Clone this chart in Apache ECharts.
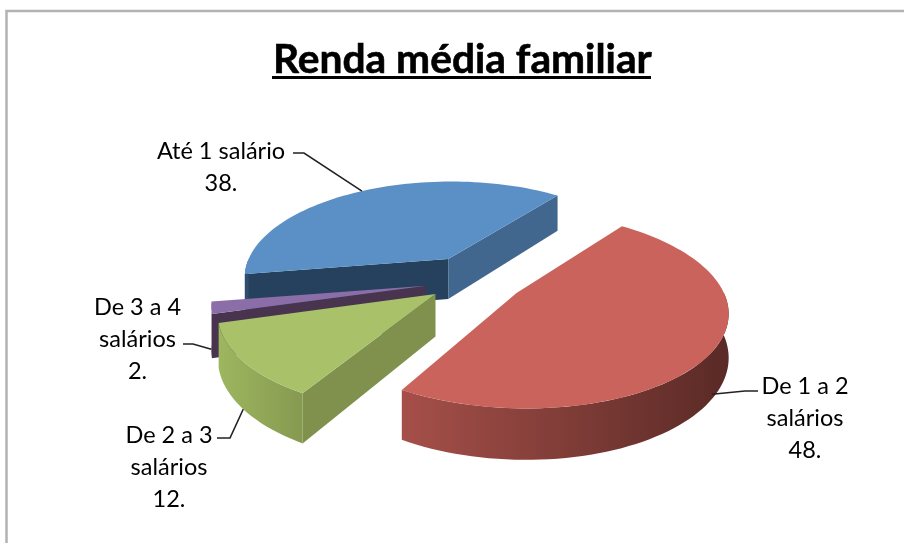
<!DOCTYPE html>
<html><head><meta charset="utf-8">
<style>html,body{margin:0;padding:0;background:#fff}#c{width:904px;height:543px}</style>
<script src="https://cdn.jsdelivr.net/npm/echarts@6/dist/echarts.min.js"></script>
</head><body><div id="c"></div>
<script>
// data
const categories = ['Até 1 salário','De 1 a 2 salários','De 2 a 3 salários','De 3 a 4 salários'];
const values = [38, 48, 12, 2];
const labelLines = [['Até 1 salário','38.'],['De 1 a 2','salários','48.'],['De 2 a 3','salários','12.'],['De 3 a 4','salários','2.']];
// styles
const topColors = ['#5B90C6','#C9635C','#A9C26A','#8B6EA8'];
const startCutColors = ['#26415D','#7c3b37','#7F914D','#48344F'];
const endCutColors = ['#41678F','#7c3b37','#7F914D','#48344F'];
const rimStops = [['#2f4d6e','#2f4d6e'],['#A64F49','#5A2A26'],['#9DB65F','#869A50'],['#48344F','#48344F']];
// draw order: back to front
const drawOrder = [0, 3, 2, 1];
// projection
const view = {cx:470, cy:273, A:205, B:96, p:0.18, H:41, firstAngle:-99.3,
  offset:[[-0.109,-0.15],[0.219,0.2],[-0.162,0.21],[-0.21,0.13]],
  radiusX:[1,0.975,1,1],
  radiusY:[1,0.925,0.94,0.94]};
const total = values.reduce((a,b)=>a+b,0);
const rad = d=>d*Math.PI/180;
function sliceSpan(i){ let a=view.firstAngle; for(let k=0;k<i;k++) a+=values[k]/total*360; return [a, a+values[i]/total*360]; }
function project(i, deg, r, h){
  const X=view.offset[i][0]+r*view.radiusX[i]*Math.sin(rad(deg)), Y=view.offset[i][1]-r*view.radiusY[i]*Math.cos(rad(deg));
  const s=1/(1-view.p*Y);
  return [view.cx+view.A*X*s, view.cy+view.B*Y*s+h*view.H*s];
}
function arcPoints(i,from,to,h){ const n=Math.max(2,Math.ceil(Math.abs(to-from)/2)), out=[]; for(let k=0;k<=n;k++) out.push(project(i,from+(to-from)*k/n,1,h)); return out; }
function sliceShapes(i){
  const [a0,a1]=sliceSpan(i), kids=[];
  const poly=(points,fill)=>kids.push({type:'polygon',shape:{points},style:{fill,stroke:null},silent:true});
  const apex=project(i,a0,0,0), apexB=project(i,a0,0,1);
  if(Math.sin(rad(a0))<0){ poly([apex,project(i,a0,1,0),project(i,a0,1,1),apexB],startCutColors[i]); }
  if(Math.sin(rad(a1))>0){ poly([apex,project(i,a1,1,0),project(i,a1,1,1),apexB],endCutColors[i]); }
  // the front-facing part of the rim
  for(const [lo,hi] of [[90,270],[-270,-90]]){
    const f=Math.max(a0,lo), t=Math.min(a1,hi);
    if(f<t){
      const up=arcPoints(i,f,t,0), dn=arcPoints(i,f,t,1).reverse();
      const xs=up.concat(dn).map(p=>p[0]), x0=Math.min(...xs), x1=Math.max(...xs);
      poly(up.concat(dn),{type:'linear',global:true,x:x0,y:0,x2:x1,y2:0,colorStops:[{offset:0,color:rimStops[i][0]},{offset:1,color:rimStops[i][1]}]});
    }
  }
  poly([apex].concat(arcPoints(i,a0,a1,0)),topColors[i]);
  return {type:'group',children:kids};
}
// label layout
const labelPos = [[221,151],[805,386],[169,435],[137.5,307]];
const leaderElbow = [[[293,153],[304,153]],[[758,391],[745,391]],[[217,438],[230,438]],[[183,344],[193,344]]];
const leaderHeight = [0,0.9,1,0.95];
const lineH = 32;
function labelShapes(i){
  const kids=[], [a0,a1]=sliceSpan(i), tip=project(i,(a0+a1)/2,1,leaderHeight[i]);
  kids.push({type:'polyline',shape:{points:leaderElbow[i].concat([tip])},style:{stroke:'#222',lineWidth:1.6,fill:null},silent:true});
  labelLines[i].forEach((t,k)=>kids.push({type:'text',style:{text:t,x:labelPos[i][0],y:labelPos[i][1]+k*lineH,align:'center',verticalAlign:'middle',font:'23.5px Lato',fill:'#000'},silent:true}));
  return {type:'group',children:kids};
}
const chart = echarts.init(document.getElementById('c'),null,{renderer:'canvas'});
chart.setOption({
  animation:false,
  backgroundColor:'#fff',
  title:{text:'Renda média familiar',left:273,top:39,padding:0,textStyle:{fontFamily:'Lato',fontWeight:'bold',fontSize:40.7,color:'#000',textBorderColor:'#000',textBorderWidth:0.6}},
  graphic:[
    {type:'polyline',shape:{points:[[6.5,543],[6.5,11],[904,11]]},style:{stroke:'#b2b2b2',lineWidth:2.5,fill:null},silent:true},
    {type:'rect',shape:{x:272,y:76,width:379,height:3},style:{fill:'#000'},silent:true}
  ],
  tooltip:{show:false},
  series:[
    {type:'custom',coordinateSystem:'none',silent:true,z:2,data:drawOrder.map(i=>({name:categories[i],value:[values[i],i]})),renderItem:(p,api)=>sliceShapes(api.value(1))},
    {type:'custom',coordinateSystem:'none',silent:true,z:3,data:categories.map((c,i)=>({name:c,value:[values[i],i]})),renderItem:(p,api)=>labelShapes(api.value(1))}
  ]
});
</script></body></html>
